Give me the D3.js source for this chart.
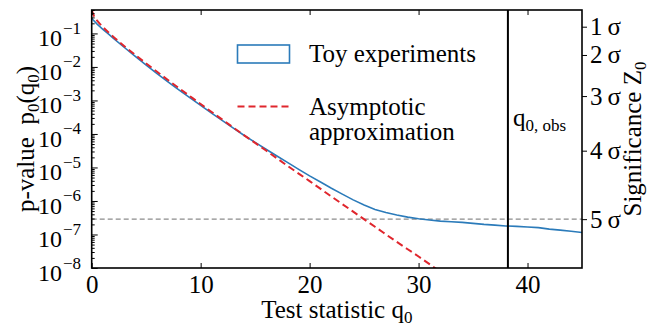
<!DOCTYPE html>
<html>
<head>
<meta charset="utf-8">
<script src="https://cdn.jsdelivr.net/npm/d3@7"></script>
<style>
  html, body { margin: 0; padding: 0; background: #fff; }
  svg text { font-family: "Liberation Serif", "Times New Roman", serif; fill: #000; }
</style>
</head>
<body>
<svg id="chart" width="652" height="328"></svg>
<script>
// Asymptotic approximation of the p-value versus test statistic
const asymQ = [0, 0.25, 0.5, 0.75, 1, 1.5, 2, 3, 4, 5, 6, 7, 8, 9, 10, 12, 14, 16, 18, 20, 22, 24, 26, 28, 30, 32];
const asymP = [0.5, 0.309, 0.24, 0.193, 0.159, 0.110, 0.0786, 0.0416, 0.0228, 0.0127, 0.00715, 0.00407, 0.00234,
               0.00135, 7.8e-4, 2.66e-4, 9.1e-5, 3.2e-5, 1.1e-5, 3.9e-6, 1.36e-6, 4.8e-7, 1.7e-7, 6.0e-8, 2.2e-8, 7.7e-9];

// Toy-experiment p-value curve
const toyQ = [0, 0.5, 1, 1.5, 2, 3, 4, 5, 6, 7, 8, 9, 10, 11, 12, 13, 14, 15, 16, 17, 18, 19, 20, 21, 22, 23, 24,
              25, 26, 27, 28, 29, 30, 31, 32, 33, 34, 35, 36, 37, 38, 39, 40, 41, 42, 43, 44, 45];
const toyP = [0.28, 0.19, 0.135, 0.098, 0.071, 0.038, 0.0205, 0.0113, 0.0063, 0.0036, 0.00208, 0.00122, 7.1e-4,
              4.2e-4, 2.5e-4, 1.5e-4, 9.0e-5, 5.6e-5, 3.5e-5, 2.2e-5, 1.4e-5, 8.8e-6, 5.6e-6, 3.7e-6, 2.4e-6,
              1.6e-6, 1.08e-6, 7.6e-7, 5.6e-7, 4.5e-7, 3.8e-7, 3.3e-7, 2.95e-7, 2.7e-7, 2.5e-7, 2.4e-7, 2.3e-7,
              2.15e-7, 2.0e-7, 1.9e-7, 1.8e-7, 1.75e-7, 1.68e-7, 1.6e-7, 1.45e-7, 1.35e-7, 1.25e-7, 1.15e-7];

// Axis ticks
const xTicks = [0, 10, 20, 30, 40];
const yExponents = [-1, -2, -3, -4, -5, -6, -7, -8];
const sigmaLabels = ["1", "2", "3", "4", "5"];
const sigmaP = [0.1587, 0.02275, 0.00135, 3.17e-5, 2.87e-7];

const qObs = 38.2;
const fiveSigmaP = 2.87e-7;

const plot = { left: 91.7, right: 582, top: 10, bottom: 268 };

const svg = d3.select("#chart");

const x = d3.scaleLinear().domain([0, 45]).range([plot.left, plot.right]);
const y = d3.scaleLog().domain([1e-8, 0.5]).range([plot.bottom, plot.top]);

svg.append("defs").append("clipPath").attr("id", "clip")
  .append("rect")
  .attr("x", plot.left).attr("y", plot.top)
  .attr("width", plot.right - plot.left).attr("height", plot.bottom - plot.top);

const g = svg.append("g").attr("clip-path", "url(#clip)");

// 5 sigma reference line
g.append("line")
  .attr("x1", plot.left).attr("x2", plot.right)
  .attr("y1", y(fiveSigmaP)).attr("y2", y(fiveSigmaP))
  .attr("stroke", "#8c8c8c").attr("stroke-width", 1.3).attr("stroke-dasharray", "5,3");

const toyData = toyQ.map((q, i) => [q, toyP[i]]);
const asymData = asymQ.map((q, i) => [q, asymP[i]]);

g.append("path").datum(toyData)
  .attr("d", d3.line().x(d => x(d[0])).y(d => y(d[1])))
  .attr("fill", "none").attr("stroke", "#2b7bba").attr("stroke-width", 1.6);

g.append("path").datum(asymData)
  .attr("d", d3.line().x(d => x(d[0])).y(d => y(d[1])).curve(d3.curveMonotoneX))
  .attr("fill", "none").attr("stroke", "#e0262d").attr("stroke-width", 2)
  .attr("stroke-dasharray", "7,4");

// Observed value
g.append("line")
  .attr("x1", x(qObs)).attr("x2", x(qObs))
  .attr("y1", plot.top).attr("y2", plot.bottom)
  .attr("stroke", "#000").attr("stroke-width", 2);

// Bottom axis (ticks pointing inward)
const gxb = svg.append("g").attr("transform", `translate(0,${plot.bottom})`)
  .call(d3.axisBottom(x).tickValues(xTicks).tickSizeInner(-5).tickSizeOuter(0).tickFormat(d3.format("d")));
gxb.select(".domain").remove();
gxb.selectAll(".tick text").attr("font-size", 25).attr("y", 7).attr("dy", "0.71em")
  .attr("font-family", "Liberation Serif");

// Top axis ticks
const gxt = svg.append("g").attr("transform", `translate(0,${plot.top})`)
  .call(d3.axisTop(x).tickValues(xTicks).tickSizeInner(-5).tickSizeOuter(0).tickFormat(""));
gxt.select(".domain").remove();

// Left log axis: major and minor ticks pointing inward
const minorVals = [];
for (let e = -8; e <= -1; e++) {
  for (let m = 2; m <= 9; m++) {
    const v = m * Math.pow(10, e);
    if (v <= 0.5) minorVals.push(v);
  }
}
const majorVals = yExponents.map(e => Math.pow(10, e));

const gyl = svg.append("g").attr("transform", `translate(${plot.left},0)`)
  .call(d3.axisLeft(y).tickValues(majorVals).tickSizeInner(-6).tickSizeOuter(0).tickFormat(""));
gyl.select(".domain").remove();
const gylm = svg.append("g").attr("transform", `translate(${plot.left},0)`)
  .call(d3.axisLeft(y).tickValues(minorVals).tickSizeInner(-3).tickSizeOuter(0).tickFormat(""));
gylm.select(".domain").remove();

// Left tick labels as powers of ten
const ylab = svg.append("g");
yExponents.forEach(e => {
  const yy = y(Math.pow(10, e));
  ylab.append("text").attr("x", 62).attr("y", yy + 13)
    .attr("text-anchor", "end").attr("font-size", 24).text("10");
  ylab.append("text").attr("x", 63).attr("y", yy + 0.5)
    .attr("text-anchor", "start").attr("font-size", 17).text("\u2212" + Math.abs(e));
});

// Right significance axis (ticks pointing outward)
const gyr = svg.append("g").attr("transform", `translate(${plot.right},0)`)
  .call(d3.axisRight(y).tickValues(sigmaP).tickSizeInner(5).tickSizeOuter(0).tickFormat(""));
gyr.select(".domain").remove();
sigmaP.forEach((p, i) => {
  gyr.append("text").attr("x", 8).attr("y", y(p) + 8.5)
    .attr("font-size", 25).text(sigmaLabels[i] + "\u2009\u03c3");
});

svg.selectAll(".tick line").attr("stroke", "#000").attr("stroke-width", 1);

// Frame
svg.append("rect")
  .attr("x", plot.left).attr("y", plot.top)
  .attr("width", plot.right - plot.left).attr("height", plot.bottom - plot.top)
  .attr("fill", "none").attr("stroke", "#000").attr("stroke-width", 1.6);

// Axis titles
const xt = svg.append("text").attr("x", (plot.left + plot.right) / 2).attr("y", 318)
  .attr("text-anchor", "middle").attr("font-size", 25);
xt.append("tspan").text("Test statistic q");
xt.append("tspan").attr("font-size", 17).attr("dy", 5).text("0");

const yt = svg.append("text")
  .attr("transform", `translate(34,${(plot.top + plot.bottom) / 2}) rotate(-90)`)
  .attr("text-anchor", "middle").attr("font-size", 25);
yt.append("tspan").text("p-value\u2002p");
yt.append("tspan").attr("font-size", 17).attr("dy", 5).text("0");
yt.append("tspan").attr("dy", -5).text("(q");
yt.append("tspan").attr("font-size", 17).attr("dy", 5).text("0");
yt.append("tspan").attr("dy", -5).text(")");

const rt = svg.append("text")
  .attr("transform", `translate(641,${(plot.top + plot.bottom) / 2}) rotate(-90)`)
  .attr("text-anchor", "middle").attr("font-size", 25);
rt.append("tspan").text("Significance Z");
rt.append("tspan").attr("font-size", 17).attr("dy", 5).text("0");

// Observed label
const ot = svg.append("text").attr("x", x(qObs) + 5).attr("y", 126).attr("font-size", 25);
ot.append("tspan").text("q");
ot.append("tspan").attr("font-size", 17).attr("dy", 5).text("0, obs");

// Legend
const lg = svg.append("g");
lg.append("rect").attr("x", 237.5).attr("y", 45).attr("width", 52).attr("height", 18)
  .attr("fill", "none").attr("stroke", "#2b7bba").attr("stroke-width", 1.6);
lg.append("text").attr("x", 309).attr("y", 62).attr("font-size", 25).text("Toy experiments");
lg.append("line").attr("x1", 237.5).attr("x2", 289.5).attr("y1", 106.5).attr("y2", 106.5)
  .attr("stroke", "#e0262d").attr("stroke-width", 2).attr("stroke-dasharray", "7,4");
lg.append("text").attr("x", 309).attr("y", 115).attr("font-size", 25).text("Asymptotic");
lg.append("text").attr("x", 309).attr("y", 140).attr("font-size", 25).text("approximation");
</script>
</body>
</html>
